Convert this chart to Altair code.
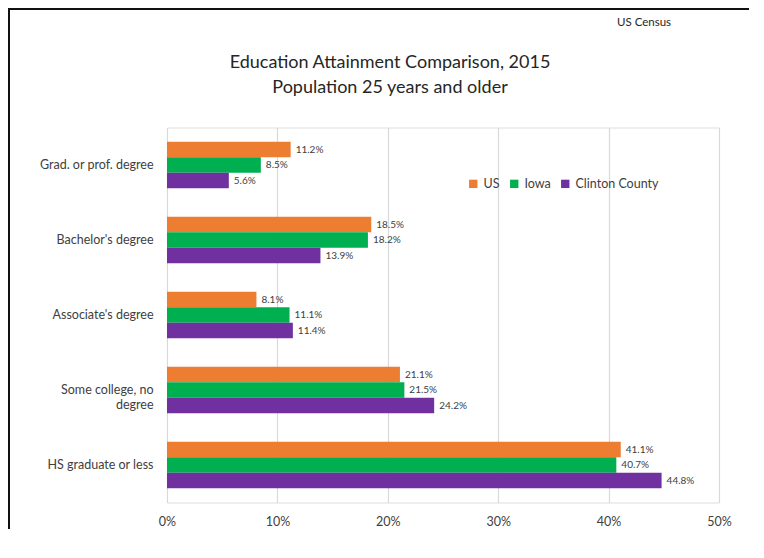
import altair as alt
import pandas as pd

categories = ["Grad. or prof. degree", "Bachelor's degree", "Associate's degree",
              "Some college, no degree", "HS graduate or less"]
series_names = ["US", "Iowa", "Clinton County"]
us = [11.2, 18.5, 8.1, 21.1, 41.1]
iowa = [8.5, 18.2, 11.1, 21.5, 40.7]
clinton = [5.6, 13.9, 11.4, 24.2, 44.8]
colors = ["#ED7D31", "#00B050", "#7030A0"]
x_ticks = [0, 10, 20, 30, 40, 50]
title_lines = ["Education Attainment Comparison, 2015", "Population 25 years and older"]
source_note = ["US Census"]

rows = []
for name, vals in zip(series_names, [us, iowa, clinton]):
    for c, v in zip(categories, vals):
        rows.append({"category": c, "series": name, "value": v})
df = pd.DataFrame(rows)

FONT = "Lato"
W, H = 552, 375

y_enc = alt.Y("category:N", sort=categories, title=None,
              scale=alt.Scale(paddingInner=0.38, paddingOuter=0.19),
              axis=alt.Axis(labelFontSize=12.5, labelColor="#404040", labelFont=FONT,
                            labelPadding=14, ticks=False, domain=False, grid=False,
                            labelLimit=200,
                            labelExpr="datum.label == 'Some college, no degree' ? ['Some college, no', 'degree\u00a0\u00a0\u00a0\u00a0\u00a0\u00a0\u00a0\u00a0\u00a0\u00a0'] : datum.label"))
x_enc = alt.X("value:Q", title=None,
              scale=alt.Scale(domain=[0, 50], nice=False),
              axis=alt.Axis(values=x_ticks, labelExpr="datum.value + '%'",
                            labelFontSize=12.5, labelColor="#404040", labelFont=FONT,
                            labelPadding=13, ticks=False, domain=False, labelFlush=False,
                            grid=True, gridColor="#d9d9d9", gridWidth=1.2))
yoff = alt.YOffset("series:N", sort=series_names)

bars = alt.Chart(df).mark_bar().encode(
    x=x_enc, y=y_enc, yOffset=yoff,
    color=alt.Color("series:N", sort=series_names,
                    scale=alt.Scale(domain=series_names, range=colors),
                    legend=alt.Legend(title=None, orient="none", legendX=300, legendY=50,
                                      direction="horizontal", symbolType="square",
                                      symbolSize=70, symbolStrokeWidth=0,
                                      labelFontSize=12.5, labelFont=FONT,
                                      labelColor="#404040", columnPadding=8,
                                      labelOffset=4)),
)

labels = alt.Chart(df).transform_calculate(
    label="format(datum.value, '.1f') + '%'"
).mark_text(align="left", baseline="middle", dx=5, fontSize=10, font=FONT,
            color="#404040").encode(
    x=alt.X("value:Q"), y=alt.Y("category:N", sort=categories), yOffset=yoff,
    text="label:N",
)

one = pd.DataFrame({"a": [0]})
top_line = alt.Chart(one).mark_rect(fill="#111111", strokeWidth=0).encode(
    x=alt.value(-159), x2=alt.value(640), y=alt.value(-119.5), y2=alt.value(-117.5))
left_line = alt.Chart(one).mark_rect(fill="#111111", strokeWidth=0).encode(
    x=alt.value(-159), x2=alt.value(-157), y=alt.value(-119.5), y2=alt.value(440))

title1 = alt.Chart(pd.DataFrame({"t": [title_lines[0]]})).mark_text(
    align="center", baseline="middle", fontSize=18, font=FONT, color="#262626"
).encode(x=alt.value(223), y=alt.value(-65), text="t:N")
title2 = alt.Chart(pd.DataFrame({"t": [title_lines[1]]})).mark_text(
    align="center", baseline="middle", fontSize=18, font=FONT, color="#262626"
).encode(x=alt.value(223), y=alt.value(-40), text="t:N")

source = alt.Chart(pd.DataFrame({"t": source_note})).mark_text(
    align="left", baseline="middle", fontSize=11.5, font=FONT, color="#262626"
).encode(x=alt.value(450), y=alt.value(-104.5), text="t:N")

chart = alt.layer(top_line, left_line, bars, labels, title1, title2, source).properties(
    width=W, height=H,
    autosize=alt.AutoSizeParams(type="none"),
    padding={"left": 159, "top": 119.5, "right": 30, "bottom": 26},
).configure_view(stroke=None).configure(background="white")

chart.save("out.html", embed_options={"renderer": "svg", "actions": False})
